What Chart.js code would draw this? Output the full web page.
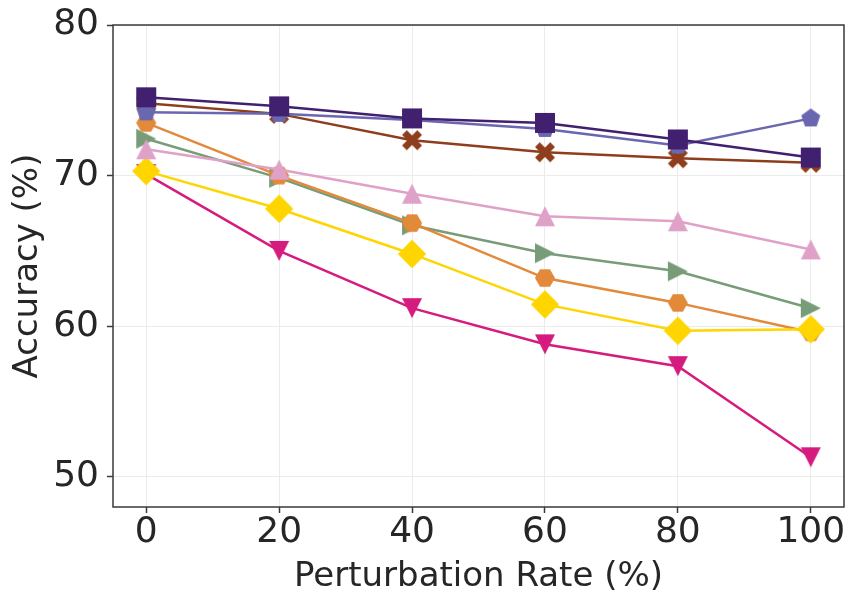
<!DOCTYPE html>
<html>
<head>
<meta charset="utf-8">
<script src="https://cdn.jsdelivr.net/npm/chart.js@4"></script>
<style>html,body{margin:0;padding:0;background:#fff;overflow:hidden}canvas{display:block}</style>
</head>
<body>
<canvas id="c" width="849" height="596"></canvas>
<script>
// ---- data ----
const rates = [0, 20, 40, 60, 80, 100];
const xTicks = [0, 20, 40, 60, 80, 100];
const yTicks = [50, 60, 70, 80];
const squareDark    = [75.2, 74.6, 73.8, 73.5, 72.4, 71.2];
const pentagonSlate = [74.2, 74.1, 73.7, 73.1, 72.0, 73.8];
const xBrown        = [74.8, 74.1, 72.35, 71.55, 71.15, 70.85];
const trianglePink  = [71.75, 70.4, 68.8, 67.3, 66.97, 65.1];
const diamondGold   = [70.3, 67.8, 64.8, 61.45, 59.7, 59.8];
const hexOrange     = [73.5, 70.0, 66.85, 63.2, 61.55, 59.6];
const rightGreen    = [72.45, 69.85, 66.7, 64.85, 63.65, 61.2];
const downMagenta   = [70.1, 65.0, 61.2, 58.8, 57.35, 51.3];

// ---- marker glyphs ----
function marker(shape, color, size) {
  const c = document.createElement('canvas');
  const pad = 2;
  const dim = Math.ceil(size * 1.5) + pad * 2;
  c.width = c.height = dim;
  const g = c.getContext('2d');
  g.translate(dim / 2, dim / 2);
  g.fillStyle = color;
  const r = size / 2;
  g.beginPath();
  const poly = (n, start, rad) => {
    for (let k = 0; k < n; k++) {
      const a = (start + k * 360 / n) * Math.PI / 180;
      const px = rad * Math.cos(a), py = rad * Math.sin(a);
      k ? g.lineTo(px, py) : g.moveTo(px, py);
    }
    g.closePath();
  };
  if (shape === 'square') {
    g.rect(-r, -r, size, size);
  } else if (shape === 'diamond') {
    const d = r * Math.SQRT2;
    g.moveTo(0, -d); g.lineTo(d, 0); g.lineTo(0, d); g.lineTo(-d, 0); g.closePath();
  } else if (shape === 'pentagon') {
    poly(5, -90, r);
  } else if (shape === 'hexagon') {
    poly(6, 0, r);
  } else if (shape === 'up' || shape === 'down' || shape === 'right') {
    let pts = [[0, -1], [1, 1], [-1, 1]];
    if (shape === 'down') pts = [[0, 1], [1, -1], [-1, -1]];
    if (shape === 'right') pts = [[1, 0], [-1, -1], [-1, 1]];
    pts.forEach((p, i) => i ? g.lineTo(p[0] * r, p[1] * r) : g.moveTo(p[0] * r, p[1] * r));
    g.closePath();
  } else if (shape === 'x') {
    const t = 0.48 * r, e = r;
    const pts = [[-e + t, -e], [0, -t], [e - t, -e], [e, -e + t], [t, 0], [e, e - t],
                 [e - t, e], [0, t], [-e + t, e], [-e, e - t], [-t, 0], [-e, -e + t]];
    pts.forEach((p, i) => i ? g.lineTo(p[0], p[1]) : g.moveTo(p[0], p[1]));
    g.closePath();
  }
  g.fill();
  return c;
}

const MS = 20;
function ds(label, values, color, shape) {
  return {
    label,
    data: rates.map((x, i) => ({ x, y: values[i] })),
    borderColor: color,
    backgroundColor: color,
    borderWidth: 2.5,
    pointStyle: marker(shape, color, MS),
    pointRadius: MS / 2,
    pointHoverRadius: MS / 2,
    tension: 0,
    fill: false
  };
}

const frame = {
  id: 'frame',
  afterDraw(chart) {
    const { ctx, chartArea: a } = chart;
    ctx.save();
    ctx.strokeStyle = '#3a3a3a';
    ctx.lineWidth = 1.5;
    ctx.strokeRect(a.left, a.top, a.right - a.left, a.bottom - a.top);
    ctx.restore();
  }
};

const noPad = s => {
  s.paddingLeft = 0; s.paddingRight = 0; s.paddingTop = 0; s.paddingBottom = 0;
};

const textColor = '#262626';
const fam = "'DejaVu Sans', sans-serif";

new Chart(document.getElementById('c'), {
  type: 'line',
  data: {
    datasets: [
      ds('squareDark', squareDark, '#40206f', 'square'),
      ds('pentagonSlate', pentagonSlate, '#6a66b0', 'pentagon'),
      ds('xBrown', xBrown, '#8e3e1c', 'x'),
      ds('trianglePink', trianglePink, '#e0a1c9', 'up'),
      ds('diamondGold', diamondGold, '#ffd500', 'diamond'),
      ds('hexOrange', hexOrange, '#e2893a', 'hexagon'),
      ds('rightGreen', rightGreen, '#789c78', 'right'),
      ds('downMagenta', downMagenta, '#d61b7e', 'down')
    ]
  },
  options: {
    responsive: false,
    animation: false,
    devicePixelRatio: 1,
    layout: { autoPadding: false, padding: { top: 25, right: 5, left: 0, bottom: 0 } },
    plugins: { legend: { display: false }, tooltip: { enabled: false } },
    scales: {
      x: {
        type: 'linear',
        min: -5, max: 105,
        afterBuildTicks: s => { s.ticks = xTicks.map(v => ({ value: v })); },
        afterFit: s => { s.height = 89; noPad(s); },
        grid: { color: '#ebebeb', lineWidth: 1, drawTicks: true, tickLength: 6, tickColor: '#3a3a3a', tickWidth: 1.5 },
        border: { display: false },
        ticks: { color: textColor, font: { family: fam, size: 36, lineHeight: 1 }, padding: 2, maxRotation: 0 },
        title: { display: true, text: 'Perturbation Rate (%)', color: textColor,
                 font: { family: fam, size: 34, lineHeight: 1 }, padding: { top: 0, bottom: 2 } }
      },
      y: {
        min: 48, max: 80,
        afterBuildTicks: s => { s.ticks = yTicks.map(v => ({ value: v })); },
        afterFit: s => { s.width = 113; noPad(s); },
        grid: { color: '#ebebeb', lineWidth: 1, drawTicks: true, tickLength: 6, tickColor: '#3a3a3a', tickWidth: 1.5 },
        border: { display: false },
        ticks: { color: textColor, font: { family: fam, size: 36, lineHeight: 1 }, padding: 8 },
        title: { display: true, text: 'Accuracy (%)', color: textColor,
                 font: { family: fam, size: 34, lineHeight: 1.2 }, padding: { top: 8, bottom: 0 } }
      }
    }
  },
  plugins: [frame]
});
</script>
</body>
</html>
